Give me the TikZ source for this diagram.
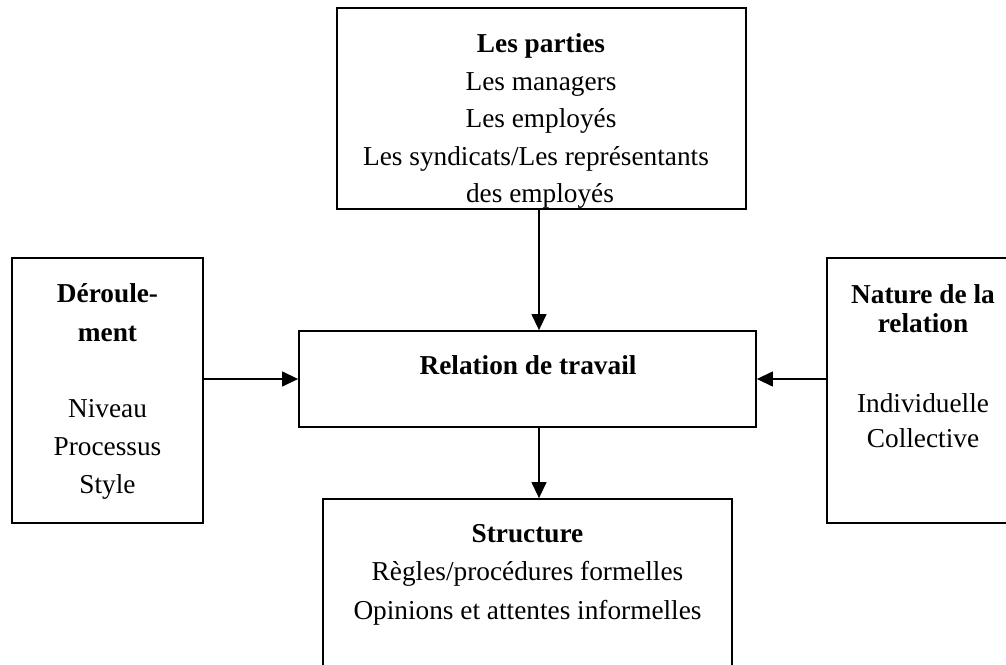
\documentclass[tikz,border=0pt]{standalone}
\usepackage{fontspec}
\setmainfont{Liberation Serif}
\usetikzlibrary{arrows.meta}
\begin{document}
\begin{tikzpicture}[x=1pt,y=-1pt,
  box/.style={draw, line width=1.8pt, inner sep=0pt},
  ln/.style={font=\fontsize{27.3}{32}\selectfont, inner sep=0pt, anchor=base},
  bt/.style={font=\fontsize{27.3}{32}\selectfont\bfseries, inner sep=0pt, anchor=base},
  arr/.style={-{Triangle[length=16pt,width=15pt]}, line width=1.3pt}]
\useasboundingbox (0,0) rectangle (1006,664);
\clip (0,0) rectangle (1006,664);
% texts
\node[bt] (t1) at (541,52.5) {Les parties};
\node[ln] (t2) at (541,90) {Les managers};
\node[ln] (t3) at (541,127) {Les employés};
\node[ln] (t4) at (536,165) {Les syndicats/Les représentants};
\node[ln] (t5) at (540,202) {des employés};
\node[bt] (l1) at (107.5,302) {Déroule-};
\node[bt] (l2) at (107.5,341) {ment};
\node[ln] (l3) at (107.5,417) {Niveau};
\node[ln] (l4) at (107.5,455) {Processus};
\node[ln] (l5) at (107.5,493) {Style};
\node[bt] (r1) at (923,303) {Nature de la};
\node[bt] (r2) at (923,332) {relation};
\node[ln] (r3) at (923,412) {Individuelle};
\node[ln] (r4) at (923,447) {Collective};
\node[bt] (c1) at (528,374) {Relation de travail};
\node[bt] (s1) at (527.5,542) {Structure};
\node[ln] (s2) at (527.5,580) {Règles/procédures formelles};
\node[ln] (s3) at (527.5,619) {Opinions et attentes informelles};
% boxes
\node[box, minimum width=409pt, minimum height=201pt] (parties) at (541.5,108.5) {};
\node[box, minimum width=191pt, minimum height=265pt] (der) at (107.5,390.5) {};
\node[box, minimum width=457pt, minimum height=96pt] (rel) at (527.5,379) {};
\node[box, minimum width=192pt, minimum height=265pt] (nat) at (923,390.5) {};
\node[box, minimum width=409pt, minimum height=201pt] (struc) at (527.5,599.5) {};
% arrows
\coordinate (vx) at (539,0);
\coordinate (hy) at (0,379);
\draw[arr] (parties.south -| vx) -- (rel.north -| vx);
\draw[arr] (rel.south -| vx) -- (struc.north -| vx);
\draw[arr] (der.east |- hy) -- (rel.west |- hy);
\draw[arr] (nat.west |- hy) -- (rel.east |- hy);
\end{tikzpicture}
\end{document}
